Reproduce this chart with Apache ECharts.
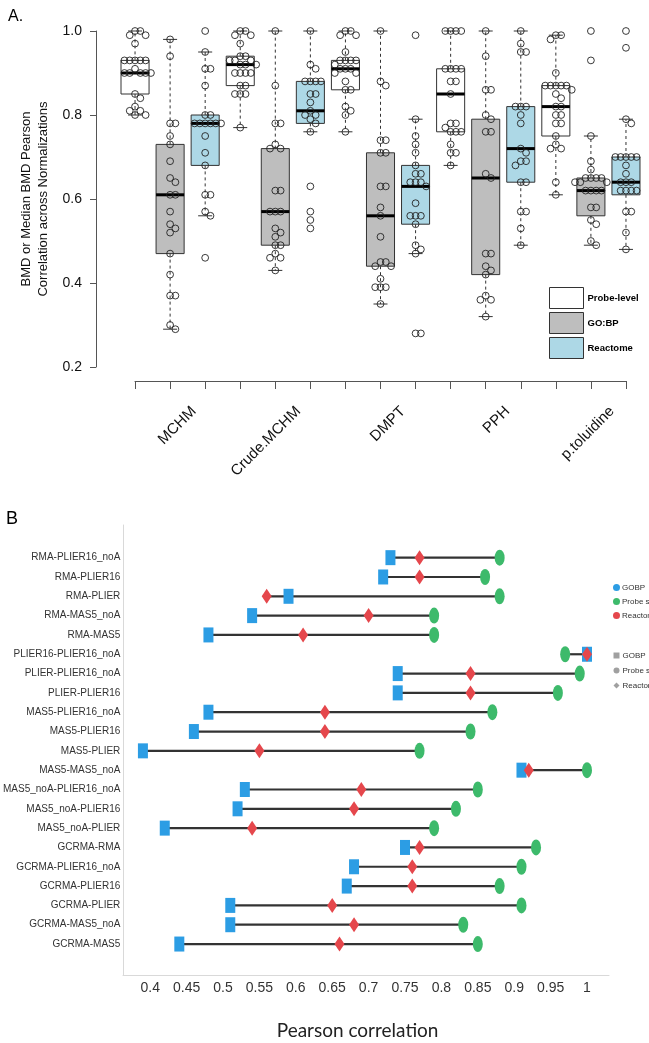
<!DOCTYPE html>
<html><head><meta charset="utf-8">
<script src="https://cdn.jsdelivr.net/npm/echarts@6/dist/echarts.min.js"></script>
<style>html,body{margin:0;padding:0;background:#fff}#c{width:649px;height:1043px}</style>
</head><body><div id="c"></div>
<script>
// ---------------- Panel A data ----------------
const chemicals = ['MCHM', 'Crude.MCHM', 'DMPT', 'PPH', 'p.toluidine'];
const methods = ['Probe-level', 'GO:BP', 'Reactome'];
// box stats per chemical: [lower whisker, Q1, median, Q3, upper whisker]
const boxProbe = [[0.80,0.85,0.90,0.93,1.00],[0.77,0.87,0.92,0.94,1.00],[0.76,0.86,0.91,0.93,1.00],[0.68,0.76,0.85,0.91,1.00],[0.61,0.75,0.82,0.87,0.99]];
const boxGOBP  = [[0.29,0.47,0.61,0.73,0.98],[0.43,0.49,0.57,0.72,1.00],[0.35,0.44,0.56,0.71,1.00],[0.32,0.42,0.65,0.79,1.00],[0.49,0.56,0.62,0.65,0.75]];
const boxReact = [[0.56,0.68,0.78,0.80,0.95],[0.76,0.78,0.81,0.88,1.00],[0.47,0.54,0.63,0.68,0.79],[0.49,0.64,0.72,0.82,1.00],[0.48,0.61,0.64,0.70,0.79]];
// individual correlations per chemical
const ptsProbe = [
  [1.0,1.0,0.99,0.99,0.97,0.93,0.93,0.93,0.93,0.93,0.91,0.90,0.90,0.90,0.90,0.90,0.85,0.84,0.82,0.81,0.81,0.80,0.80],
  [1.0,1.0,0.99,0.99,0.97,0.94,0.94,0.93,0.93,0.93,0.92,0.92,0.92,0.90,0.90,0.90,0.90,0.87,0.87,0.85,0.85,0.85,0.77],
  [1.0,1.0,0.99,0.99,0.95,0.93,0.93,0.93,0.93,0.92,0.91,0.91,0.91,0.90,0.90,0.88,0.86,0.86,0.82,0.81,0.80,0.76],
  [1.0,1.0,1.0,1.0,0.91,0.91,0.91,0.91,0.88,0.88,0.85,0.78,0.78,0.77,0.76,0.76,0.76,0.73,0.71,0.71,0.68],
  [0.99,0.99,0.98,0.90,0.87,0.87,0.87,0.87,0.87,0.86,0.85,0.84,0.82,0.82,0.80,0.80,0.78,0.78,0.75,0.73,0.72,0.72,0.64,0.61]
];
const ptsGOBP = [
  [0.98,0.94,0.78,0.78,0.75,0.73,0.69,0.65,0.64,0.61,0.61,0.57,0.54,0.53,0.52,0.47,0.42,0.37,0.37,0.30,0.29],
  [1.0,0.87,0.78,0.78,0.73,0.72,0.72,0.62,0.62,0.57,0.57,0.57,0.53,0.52,0.51,0.49,0.49,0.47,0.46,0.46,0.43],
  [1.0,0.88,0.87,0.74,0.74,0.71,0.71,0.63,0.63,0.58,0.56,0.51,0.45,0.45,0.44,0.44,0.41,0.39,0.39,0.39,0.35],
  [1.0,0.94,0.86,0.86,0.80,0.79,0.76,0.76,0.66,0.65,0.47,0.47,0.44,0.43,0.42,0.37,0.36,0.36,0.32],
  [1.0,0.93,0.75,0.69,0.67,0.65,0.65,0.65,0.65,0.64,0.64,0.64,0.62,0.62,0.62,0.62,0.58,0.58,0.55,0.54,0.50,0.49]
];
const ptsReact = [
  [1.0,0.95,0.91,0.91,0.87,0.80,0.80,0.78,0.78,0.78,0.78,0.78,0.78,0.75,0.71,0.68,0.61,0.61,0.57,0.56,0.46],
  [1.0,0.92,0.91,0.88,0.88,0.88,0.88,0.85,0.85,0.83,0.81,0.80,0.80,0.79,0.78,0.76,0.63,0.57,0.55,0.53],
  [0.99,0.79,0.75,0.73,0.71,0.68,0.66,0.66,0.64,0.64,0.64,0.63,0.59,0.56,0.56,0.56,0.54,0.49,0.48,0.47,0.28,0.28],
  [1.0,0.97,0.95,0.95,0.82,0.82,0.82,0.80,0.78,0.72,0.71,0.69,0.69,0.68,0.64,0.64,0.57,0.57,0.53,0.49],
  [1.0,0.96,0.79,0.78,0.70,0.70,0.70,0.70,0.70,0.68,0.66,0.64,0.64,0.64,0.62,0.62,0.62,0.62,0.57,0.57,0.52,0.48]
];

// ---------------- Panel B data ----------------
const pairs = ['RMA-PLIER16_noA','RMA-PLIER16','RMA-PLIER','RMA-MAS5_noA','RMA-MAS5','PLIER16-PLIER16_noA','PLIER-PLIER16_noA','PLIER-PLIER16','MAS5-PLIER16_noA','MAS5-PLIER16','MAS5-PLIER','MAS5-MAS5_noA','MAS5_noA-PLIER16_noA','MAS5_noA-PLIER16','MAS5_noA-PLIER','GCRMA-RMA','GCRMA-PLIER16_noA','GCRMA-PLIER16','GCRMA-PLIER','GCRMA-MAS5_noA','GCRMA-MAS5'];
const gobp     = [0.73,0.72,0.59,0.54,0.48,1.00,0.74,0.74,0.48,0.46,0.39,0.91,0.53,0.52,0.42,0.75,0.68,0.67,0.51,0.51,0.44];
const probeSet = [0.88,0.86,0.88,0.79,0.79,0.97,0.99,0.96,0.87,0.84,0.77,1.00,0.85,0.82,0.79,0.93,0.91,0.88,0.91,0.83,0.85];
const reactome = [0.77,0.77,0.56,0.70,0.61,1.00,0.84,0.84,0.64,0.64,0.55,0.92,0.69,0.68,0.54,0.77,0.76,0.76,0.65,0.68,0.66];

// ---------------- build ----------------
const boxStats = [boxProbe, boxGOBP, boxReact];
const pts = [ptsProbe, ptsGOBP, ptsReact];
const fills = ['#FFFFFF', '#BEBEBE', '#ADD8E6'];
const slots = [];
chemicals.forEach(c => methods.forEach(m => slots.push(c + '|' + m)));
const tickLabelsA = slots.map((s, i) => (i % 3 === 1 ? chemicals[(i - 1) / 3] : ''));

const fontA = 'Liberation Sans, Arial, sans-serif';
const fontB = 'Liberation Sans, Arial, sans-serif';
const cBlue = '#2C9DE4', cGreen = '#3DBA6B', cRed = '#E5474C';

function boxRender(color) {
  return function (params, api) {
    const x = api.value(0);
    const lo = api.coord([x, api.value(1)]), q1 = api.coord([x, api.value(2)]),
      md = api.coord([x, api.value(3)]), q3 = api.coord([x, api.value(4)]), hi = api.coord([x, api.value(5)]);
    const bw = api.size([1, 0])[0] * 0.8, cx = lo[0], h = bw / 2, cap = bw / 4;
    const dash = { stroke: '#333', lineWidth: 1, lineDash: [3, 3] };
    const solid = { stroke: '#333', lineWidth: 1 };
    return { type: 'group', children: [
      { type: 'line', shape: { x1: cx, y1: q3[1], x2: cx, y2: hi[1] }, style: dash },
      { type: 'line', shape: { x1: cx, y1: q1[1], x2: cx, y2: lo[1] }, style: dash },
      { type: 'line', shape: { x1: cx - cap, y1: hi[1], x2: cx + cap, y2: hi[1] }, style: solid },
      { type: 'line', shape: { x1: cx - cap, y1: lo[1], x2: cx + cap, y2: lo[1] }, style: solid },
      { type: 'rect', shape: { x: cx - h, y: q3[1], width: bw, height: q1[1] - q3[1] }, style: { fill: color, stroke: '#333', lineWidth: 1 } },
      { type: 'line', shape: { x1: cx - h, y1: md[1], x2: cx + h, y2: md[1] }, style: { stroke: '#000', lineWidth: 3 } }
    ] };
  };
}

// swarm layout of the points of one box, computed in pixel space from the axis scale
function ptsRender(params, api) {
  const slot = api.value(0), m = api.value(1), c = api.value(2);
  const vals = pts[m][c].slice().sort((a, b) => b - a);
  const r = 3.4, dmin = 5.2, step = 5.3;
  const placed = [];
  const children = [];
  vals.forEach(v => {
    const p = api.coord([slot, v]);
    const cands = [0];
    for (let k = 1; k < 12; k++) { cands.push(k * step); cands.push(-k * step); }
    let off = 0;
    for (const o of cands) {
      let ok = true;
      for (const q of placed) {
        const dx = o - q[0], dy = p[1] - q[1];
        if (dx * dx + dy * dy < dmin * dmin) { ok = false; break; }
      }
      if (ok) { off = o; break; }
    }
    placed.push([off, p[1]]);
    children.push({ type: 'circle', shape: { cx: p[0] + off, cy: p[1], r: r }, style: { fill: 'none', stroke: '#222', lineWidth: 0.9 } });
  });
  return { type: 'group', children: children };
}

const boxSeries = methods.map((m, mi) => ({
  name: m, type: 'custom', xAxisIndex: 0, yAxisIndex: 0, z: 2,
  renderItem: boxRender(fills[mi]),
  data: chemicals.map((c, ci) => [ci * 3 + mi].concat(boxStats[mi][ci])),
  encode: { x: 0, y: [1, 2, 3, 4, 5] }
}));
const ptsData = [];
chemicals.forEach((c, ci) => methods.forEach((m, mi) => ptsData.push([ci * 3 + mi, mi, ci])));

const ellipse = 'path://M0,8A5,8 0 1,1 10,8A5,8 0 1,1 0,8Z';
const rowsB = pairs.map((p, i) => [Math.min(gobp[i], probeSet[i], reactome[i]), Math.max(gobp[i], probeSet[i], reactome[i]), i]);

const option = {
  animation: false,
  title: [
    { text: 'A.', left: 3, top: 4, textStyle: { fontFamily: fontA, fontSize: 16, fontWeight: 'normal', color: '#000' } },
    { text: 'B', left: 1, top: 505, textStyle: { fontFamily: fontA, fontSize: 18, fontWeight: 'normal', color: '#000' } }
  ],
  legend: [
    { orient: 'vertical', left: 544, top: 282, itemWidth: 34, itemHeight: 21, itemGap: 3, selectedMode: false,
      textStyle: { fontFamily: fontA, fontSize: 9.5, fontWeight: 'bold', color: '#000', padding: [0, 0, 0, -1] },
      data: methods.map((m, i) => ({ name: m, icon: 'rect', itemStyle: { color: fills[i], borderColor: '#333', borderWidth: 1 } })) },
    { orient: 'vertical', left: 608, top: 577, itemWidth: 7, itemHeight: 7, itemGap: 3, selectedMode: false,
      textStyle: { fontFamily: fontB, fontSize: 8, color: '#333', lineHeight: 11, padding: [0, 0, 0, -3] },
      data: [{ name: 'GOBP', icon: 'circle', itemStyle: { color: cBlue } }, { name: 'Probe set', icon: 'circle', itemStyle: { color: cGreen } }, { name: 'Reactome', icon: 'circle', itemStyle: { color: cRed } }] },
    { orient: 'vertical', left: 608.5, top: 645, itemWidth: 6, itemHeight: 6, itemGap: 4, selectedMode: false,
      textStyle: { fontFamily: fontB, fontSize: 8, color: '#333', lineHeight: 11, padding: [0, 0, 0, -2] },
      data: [{ name: 'GOBP', icon: 'rect', itemStyle: { color: '#A0A0A0' } }, { name: 'Probe set', icon: 'circle', itemStyle: { color: '#A0A0A0' } }, { name: 'Reactome', icon: 'diamond', itemStyle: { color: '#A0A0A0' } }] }
  ],
  grid: [
    { left: 117.5, right: 5.5, top: 31, bottom: 676 },            // 0 boxes
    { left: 135, width: 491, top: 370, height: 11 },               // 1 tick axis
    { left: 159, width: 491, top: 370, height: 11 },               // 2 label axis
    { left: 123, width: 486, top: 525, height: 450 },              // 3 frame B
    { left: 113.8, width: 509.6, top: 548, height: 405.7 },        // 4 data B
    { left: 123, width: 486, top: 548, height: 405.7 }             // 5 row labels B
  ],
  xAxis: [
    { gridIndex: 0, type: 'category', data: slots, boundaryGap: true, show: false },
    { gridIndex: 1, type: 'value', min: 0, max: 14, interval: 1, axisLine: { lineStyle: { color: '#555' } }, axisTick: { show: true, length: 8, lineStyle: { color: '#555' } }, axisLabel: { show: false }, splitLine: { show: false } },
    { gridIndex: 2, type: 'category', data: tickLabelsA, boundaryGap: false, axisLine: { show: false }, axisTick: { show: false },
      axisLabel: { interval: 0, rotate: 45, margin: 28, fontFamily: fontA, fontSize: 15, color: '#111' } },
    { gridIndex: 3, type: 'value', min: 0, max: 1, axisLine: { lineStyle: { color: '#D9D9D9' } }, axisTick: { show: false }, axisLabel: { show: false }, splitLine: { show: false } },
    { gridIndex: 4, type: 'value', min: 0.35, max: 1.05, interval: 0.05, axisLine: { show: false }, axisTick: { show: false }, splitLine: { show: false },
      axisLabel: { margin: 27, fontFamily: fontB, fontSize: 14, color: '#333', formatter: v => (v < 0.39 || v > 1.01) ? '' : String(+v.toFixed(2)) },
      name: 'Pearson correlation', nameLocation: 'middle', nameGap: 68,
      nameTextStyle: { fontFamily: 'Lato, Open Sans, sans-serif', fontSize: 19, color: '#222', padding: [0, 22, 0, 0] } },
    { gridIndex: 5, type: 'value', show: false }
  ],
  yAxis: [
    { gridIndex: 0, type: 'value', min: 0.2, max: 1.0, interval: 0.2, offset: 21.5,
      axisLine: { show: true, lineStyle: { color: '#555' } }, axisTick: { show: true, length: 6, lineStyle: { color: '#555' } }, splitLine: { show: false },
      axisLabel: { margin: 14, fontFamily: fontA, fontSize: 14, color: '#111', formatter: v => v.toFixed(1) },
      name: 'BMD or Median BMD Pearson\nCorrelation across Normalizations', nameLocation: 'middle', nameRotate: 90, nameGap: 40,
      nameTextStyle: { fontFamily: fontA, fontSize: 13, lineHeight: 17, color: '#111' } },
    { gridIndex: 1, type: 'value', show: false },
    { gridIndex: 2, type: 'value', show: false },
    { gridIndex: 3, type: 'value', axisLine: { show: true, lineStyle: { color: '#D9D9D9' } }, axisTick: { show: false }, axisLabel: { show: false }, splitLine: { show: false } },
    { gridIndex: 4, type: 'category', data: pairs, inverse: true, boundaryGap: true, show: false },
    { gridIndex: 5, type: 'category', data: pairs, inverse: true, boundaryGap: true,
      axisLine: { show: false }, axisTick: { show: false },
      axisLabel: { margin: 4, fontFamily: fontB, fontSize: 10, color: '#333' } }
  ],
  series: boxSeries.concat([
    { name: 'pts', type: 'custom', xAxisIndex: 0, yAxisIndex: 0, z: 3, renderItem: ptsRender, data: ptsData, encode: { x: 0 }, silent: true },
    { name: 'range', type: 'custom', xAxisIndex: 4, yAxisIndex: 4, z: 1, data: rowsB, encode: { x: [0, 1], y: 2 },
      renderItem: (params, api) => {
        const a = api.coord([api.value(0), api.value(2)]), b = api.coord([api.value(1), api.value(2)]);
        return { type: 'line', shape: { x1: a[0], y1: a[1], x2: b[0], y2: b[1] }, style: { stroke: '#333', lineWidth: 2.2 } };
      } },
    { name: 'GOBP', type: 'scatter', xAxisIndex: 4, yAxisIndex: 4, z: 2, symbol: 'rect', symbolSize: [10, 15],
      itemStyle: { color: cBlue, opacity: 1 }, data: gobp.map((v, i) => [v, i]) },
    { name: 'Probe set', type: 'scatter', xAxisIndex: 4, yAxisIndex: 4, z: 3, symbol: ellipse, symbolSize: [10, 16],
      itemStyle: { color: cGreen, opacity: 1 }, data: probeSet.map((v, i) => [v, i]) },
    { name: 'Reactome', type: 'scatter', xAxisIndex: 4, yAxisIndex: 4, z: 4, symbol: 'diamond', symbolSize: [10, 15],
      itemStyle: { color: cRed, opacity: 1 }, data: reactome.map((v, i) => [v, i]) }
  ])
};
const chart = echarts.init(document.getElementById('c'), null, { renderer: 'canvas' });
chart.setOption(option);
</script>
</body></html>
